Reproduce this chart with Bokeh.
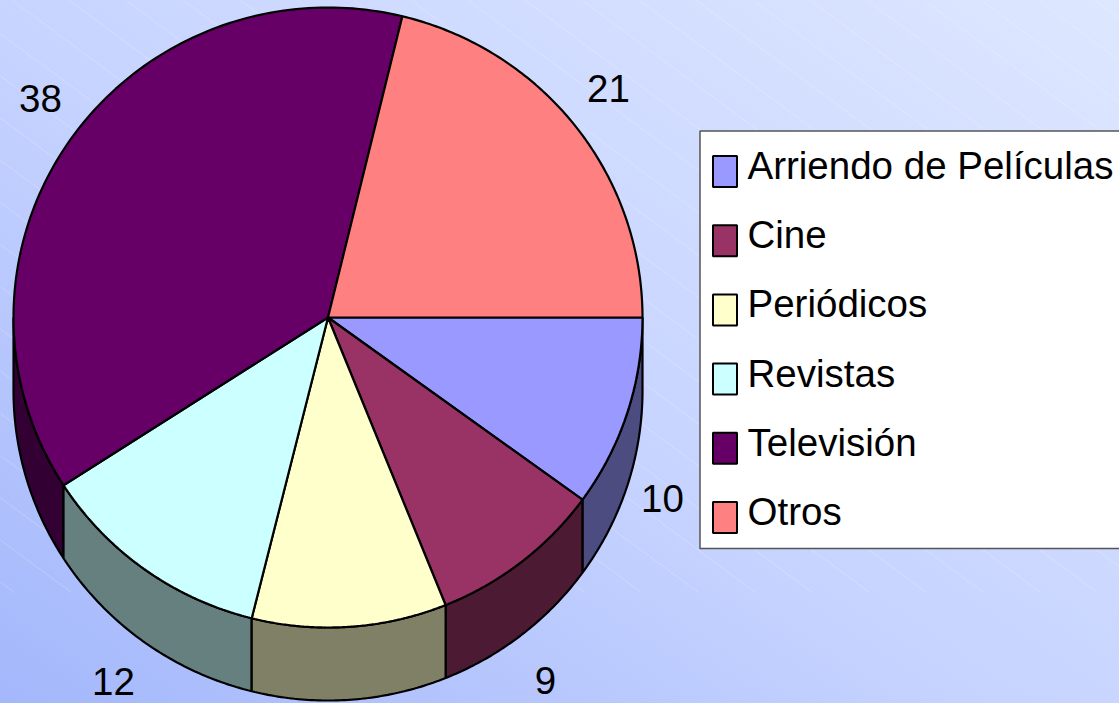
import numpy as np
from bokeh.embed import file_html
from bokeh.resources import INLINE
from bokeh.plotting import figure
from bokeh.models import Range1d
from bokeh.core.properties import value

categories = ["Arriendo de Películas", "Cine", "Periódicos", "Revistas", "Televisión", "Otros"]
values = [10.0, 8.9, 10.0, 12.0, 37.9, 21.2]
labels = ["10", "9", "", "12", "38", "21"]
colors = ["#9999FF", "#993366", "#FFFFCC", "#CCFFFF", "#660066", "#FF8080"]
side_colors = ["#4C4C80", "#4D1A33", "#808066", "#668080", "#330033", "#804040"]

W, H = 1119, 703
CX, CY, RX, RY, DEPTH = 327.5, 317.0, 314.5, 310.0, 73.0
label_pos = [(662, 498), (545, 680), None, (113, 681), (40, 98), (608, 88)]

p = figure(width=W, height=H, output_backend="svg", toolbar_location=None,
           x_range=Range1d(0, W), y_range=Range1d(H, 0), min_border=0,
           x_axis_location=None, y_axis_location=None)
p.grid.visible = False
p.outline_line_color = None
p.background_fill_color = None
p.border_fill_color = None
p.styles = {"background": "linear-gradient(214deg, #dde7ff 0%, #c6d3ff 55%, #a3b7fb 100%)"}

# background stripes
sx0 = np.arange(-900, 1200, 57.0)
p.multi_line([[s, s + 800] for s in sx0], [[0, 800 * 0.74] for _ in sx0],
             line_color="white", line_alpha=0.22, line_width=1)


def pt(a):
    t = np.radians(a)
    return CX + RX * np.cos(t), CY + RY * np.sin(t)


edges = np.cumsum([0] + values) * 3.6

# side walls, drawn from the outside of the visible lower half
order = [0, 4, 1, 3, 2]
for i in order:
    a0, a1 = max(edges[i], 0), min(edges[i + 1], 180)
    if a1 <= a0:
        continue
    t = np.linspace(a0, a1, 60)
    x, y = pt(t)
    p.patch(np.r_[x, x[::-1]], np.r_[y, (y + DEPTH)[::-1]], fill_color=side_colors[i],
            line_color="black", line_width=2.2)

# top face
for i, cat in enumerate(categories):
    t = np.linspace(edges[i], edges[i + 1], 120)
    x, y = pt(t)
    p.patch(np.r_[CX, x], np.r_[CY, y], fill_color=colors[i], line_color="black", line_width=2.2)

xs = [q[0] for q in label_pos if q]
ys = [q[1] for q in label_pos if q]
ts = [l for l in labels if l]
p.text(xs, ys, text=ts, text_font=value("Liberation Sans"), text_font_size="38.5px",
       text_align="center", text_baseline="middle", text_color="black")

# legend box
p.quad(left=[699.5], right=[1130], top=[130.5], bottom=[548], fill_color="white",
       line_color="#555555", line_width=1.5)
rows = np.arange(len(categories))
p.quad(left=712.5, right=736.5, top=155.5 + 69.2 * rows, bottom=186.5 + 69.2 * rows,
       fill_color=colors, line_color="black", line_width=2)
p.text(747 + 0 * rows, 165 + 69.2 * rows, text=categories, text_font=value("Liberation Sans"),
       text_font_size="38.5px", text_align="left", text_baseline="middle", text_color="black")

open("out.html", "w").write(file_html(p, INLINE))
